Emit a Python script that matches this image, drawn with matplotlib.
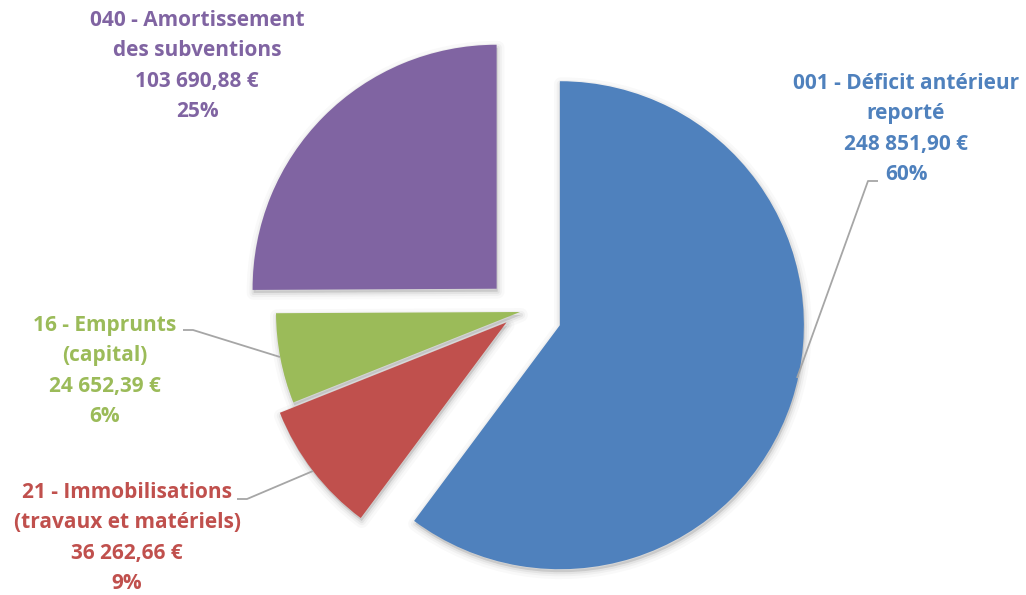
import matplotlib
matplotlib.use("Agg")
import matplotlib.pyplot as plt

# ---- data ----
names = ["001 - Déficit antérieur\nreporté",
         "21 - Immobilisations\n(travaux et matériels)",
         "16 - Emprunts\n(capital)",
         "040 - Amortissement\ndes subventions"]
values = [248851.90, 36262.66, 24652.39, 103690.88]
colors = ["#4F81BD", "#C0504D", "#9BBB59", "#8064A2"]

# ---- layout (pixel-like data units) ----
W, H = 1026, 595
cx, cy = 520, H - 312
radius = 244
explode = [42, 17, 0, 33]

fig = plt.figure(figsize=(W / 100, H / 100), dpi=100)
ax = fig.add_axes([0, 0, 1, 1])
ax.set_xlim(0, W)
ax.set_ylim(0, H)
ax.axis("off")

# soft shadow
for lw, a in [(10, 0.025), (6, 0.035), (3, 0.05)]:
    ax.pie(values, explode=explode, center=(cx + 1, cy - 3), radius=radius,
           startangle=90, counterclock=False, frame=True,
           wedgeprops=dict(facecolor=(0, 0, 0, a), edgecolor=(0, 0, 0, a),
                           linewidth=lw, joinstyle="round"))

ax.pie(values, explode=explode, center=(cx, cy), radius=radius,
       startangle=90, counterclock=False, colors=colors, frame=True,
       wedgeprops=dict(linewidth=0))
ax.set_xlim(0, W)
ax.set_ylim(0, H)
ax.set_aspect("auto")
ax.axis("off")

total = sum(values)


def fmt(v):
    s = f"{v:,.2f}"
    return s.replace(",", " ").replace(".", ",") + " €"


labels = [f"{n}\n{fmt(v)}\n{round(v / total * 100):.0f}%" for n, v in zip(names, values)]

# label anchor positions (image px: x, y centre of block)
label_pos = [(906, 129), (127, 538), (105, 371), (197, 66)]
for lab, (lx, ly), c in zip(labels, label_pos, colors):
    ax.text(lx, H - ly, lab, ha="center", va="center", color=c,
            fontsize=15, fontweight="bold", family=["Open Sans", "DejaVu Sans"],
            linespacing=1.58, multialignment="center")

# leader lines (image px)
leaders = [
    [(878, 181), (868, 181), (797, 378)],
    [(237, 499), (247, 499), (313, 471)],
    [(183, 330), (193, 330), (280, 357)],
]
for pts in leaders:
    xs = [p[0] for p in pts]
    ys = [H - p[1] for p in pts]
    ax.plot(xs, ys, color="#A6A6A6", lw=1.3, solid_capstyle="butt")

fig.savefig("out.png", dpi=100, facecolor="white")
